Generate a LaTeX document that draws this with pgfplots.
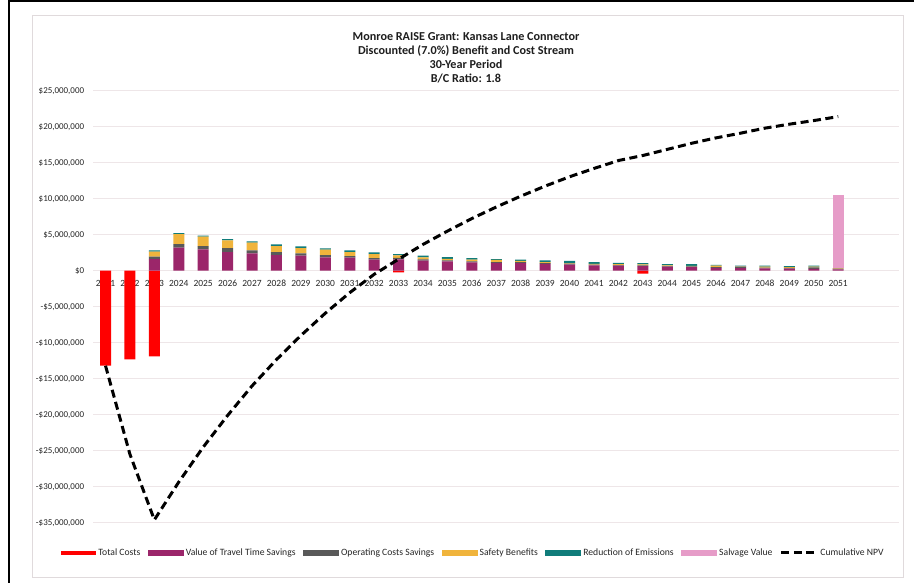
\documentclass[border=0pt]{standalone}
\usepackage{pgfplots}
\pgfplotsset{compat=1.18}
\usepackage{pgfplotstable}
\usepackage{fontspec}
\setmainfont{Carlito}

\definecolor{costred}{RGB}{255,0,0}
\definecolor{ttpurple}{RGB}{155,38,106}
\definecolor{opgray}{RGB}{89,89,89}
\definecolor{safeyellow}{RGB}{240,180,60}
\definecolor{emteal}{RGB}{16,124,122}
\definecolor{salvpink}{RGB}{230,156,200}
\definecolor{gridcol}{RGB}{238,230,232}
\definecolor{bordercol}{RGB}{224,218,220}
\definecolor{labelcol}{RGB}{38,38,38}
\definecolor{titlecol}{RGB}{30,30,30}

% values in millions of dollars
\pgfplotstableread{
year P    G    Y    T    S
2021 0    0    0    0    0
2022 0    0    0    0    0
2023 1.62 0.32 0.70 0.18 0
2024 3.19 0.51 1.39 0.14 0
2025 2.96 0.47 1.29 0.14 0
2026 2.59 0.56 1.06 0.19 0
2027 2.41 0.41 1.07 0.18 0
2028 2.18 0.41 0.84 0.23 0
2029 2.08 0.33 0.74 0.23 0
2030 1.85 0.33 0.74 0.18 0
2031 1.80 0.24 0.55 0.23 0
2032 1.53 0.23 0.55 0.24 0
2033 1.57 0.20 0.36 0.18 0
2034 1.39 0.18 0.28 0.23 0
2035 1.30 0.14 0.21 0.25 0
2036 1.15 0.14 0.26 0.20 0
2037 1.10 0.09 0.31 0.10 0
2038 1.05 0.15 0.15 0.20 0
2039 0.95 0.09 0.16 0.25 0
2040 0.85 0.14 0.06 0.30 0
2041 0.75 0.09 0.11 0.25 0
2042 0.70 0.09 0.11 0.20 0
2043 0.65 0.09 0.14 0.17 0
2044 0.55 0.09 0.09 0.17 0
2045 0.50 0.09 0.09 0.22 0
2046 0.40 0.09 0.21 0.10 0
2047 0.37 0.18 0.05 0.10 0
2048 0.32 0.10 0.13 0.15 0
2049 0.28 0.10 0.12 0.15 0
2050 0.25 0.20 0.10 0.15 0
2051 0.20 0.09 0.08 0.00 10.09
}\benefits

\pgfplotstableread{
year cost
2021 -13.2
2022 -12.3
2023 -11.9
2033 -0.23
2043 -0.42
}\costs

\pgfplotstableread{
year npv
2021 -13.2
2022 -25.5
2023 -34.6
2024 -29.35
2025 -24.5
2026 -20.1
2027 -16.0
2028 -12.35
2029 -9.0
2030 -5.9
2031 -3.05
2032 -0.5
2033 1.6
2034 3.65
2035 5.5
2036 7.25
2037 8.85
2038 10.35
2039 11.75
2040 13.05
2041 14.2
2042 15.3
2043 16.0
2044 16.85
2045 17.7
2046 18.45
2047 19.1
2048 19.8
2049 20.35
2050 20.85
2051 21.4
}\npvtab

\pgfplotsset{
  common/.style={
    at={(93.3bp,60.3bp)}, anchor=south west,
    scale only axis, width=806bp, height=432bp,
    xmin=2020.5, xmax=2053.5, ymin=-35, ymax=25,
  },
}

\begin{document}
\begin{tikzpicture}
\path[use as bounding box] (0bp,0bp) rectangle (914bp,583bp);
\fill[white] (0bp,0bp) rectangle (914bp,583bp);
% outer frame
\fill[black] (7.5bp,0bp) rectangle (10bp,583bp);
\fill[black] (7.5bp,580.5bp) rectangle (914bp,583bp);
\draw[bordercol, line width=0.8bp] (32bp,6bp) rectangle (903bp,568bp);

% Axis A: grid, labels, costs, legend
\begin{axis}[common,
  axis line style={draw=none},
  major tick length=0pt,
  ymajorgrids, grid style={gridcol, line width=1.2bp},
  ytick={-35,-30,...,25},
  yticklabels={{-\$35,000,000},{-\$30,000,000},{-\$25,000,000},{-\$20,000,000},{-\$15,000,000},{-\$10,000,000},{-\$5,000,000},{\$0},{\$5,000,000},{\$10,000,000},{\$15,000,000},{\$20,000,000},{\$25,000,000}},
  yticklabel style={font=\fontsize{9}{10}\selectfont, text=labelcol, anchor=east, inner xsep=0pt, xshift=-9bp},
  xtick={2021,...,2051},
  xticklabels={2021,2022,2023,2024,2025,2026,2027,2028,2029,2030,2031,2032,2033,2034,2035,2036,2037,2038,2039,2040,2041,2042,2043,2044,2045,2046,2047,2048,2049,2050,2051},
  xticklabel style={font=\fontsize{9.5}{10}\selectfont, text=labelcol, anchor=base, yshift=236bp},
  ybar, bar width=11bp, bar shift=0pt,
  legend columns=7,
  legend style={draw=none, fill=none, at={(0.4717,-0.0701)}, anchor=center,
    font=\fontsize{9.7}{11}\selectfont, text=labelcol,
    nodes={inner xsep=2.5bp, inner ysep=1bp},
    /tikz/every even column/.append style={column sep=5bp}},
]
\addplot[fill=costred, draw=none,
  legend image code/.code={\fill[costred] (0bp,-2.3bp) rectangle (35bp,2.3bp);}]
  table[x=year, y=cost]{\costs};
\addlegendentry{Total Costs}
\addlegendimage{legend image code/.code={\fill[ttpurple] (0bp,-2.3bp) rectangle (35bp,2.3bp);}}
\addlegendentry{Value of Travel Time Savings}
\addlegendimage{legend image code/.code={\fill[opgray] (0bp,-2.3bp) rectangle (35bp,2.3bp);}}
\addlegendentry{Operating Costs Savings}
\addlegendimage{legend image code/.code={\fill[safeyellow] (0bp,-2.3bp) rectangle (35bp,2.3bp);}}
\addlegendentry{Safety Benefits}
\addlegendimage{legend image code/.code={\fill[emteal] (0bp,-2.3bp) rectangle (35bp,2.3bp);}}
\addlegendentry{Reduction of Emissions}
\addlegendimage{legend image code/.code={\fill[salvpink] (0bp,-2.3bp) rectangle (35bp,2.3bp);}}
\addlegendentry{Salvage Value}
\addlegendimage{legend image code/.code={\draw[black, line width=3bp, dash pattern=on 8bp off 4.5bp] (0bp,0bp) -- (35bp,0bp);}}
\addlegendentry{Cumulative NPV}
\end{axis}

% Axis B: stacked benefits
\begin{axis}[common, hide axis, ybar stacked, bar width=11bp]
\addplot[fill=ttpurple, draw=none] table[x=year, y=P]{\benefits};
\addplot[fill=opgray, draw=none] table[x=year, y=G]{\benefits};
\addplot[fill=safeyellow, draw=none] table[x=year, y=Y]{\benefits};
\addplot[fill=emteal, draw=none] table[x=year, y=T]{\benefits};
\addplot[fill=salvpink, draw=none] table[x=year, y=S]{\benefits};
\end{axis}

% Axis C: cumulative NPV
\begin{axis}[common, hide axis]
\addplot[black, line width=3bp, dash pattern=on 8bp off 4.5bp] table[x=year, y=npv]{\npvtab};
\end{axis}

\node[align=center, font=\bfseries\fontsize{12.2}{14}\selectfont, text=titlecol] at (466bp,524.8bp)
  {Monroe RAISE Grant: Kansas Lane Connector\\Discounted (7.0\%) Benefit and Cost Stream\\30-Year Period\\B/C Ratio: 1.8};
\end{tikzpicture}
\end{document}
